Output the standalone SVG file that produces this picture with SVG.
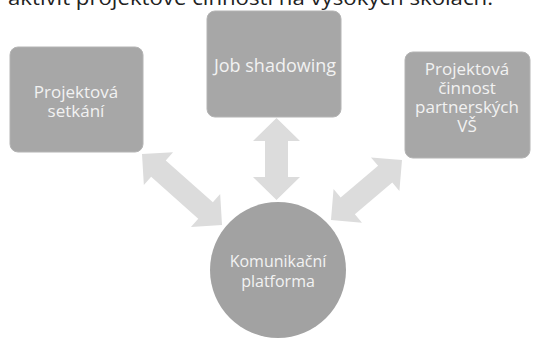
<svg xmlns="http://www.w3.org/2000/svg" width="533" height="338" viewBox="0 0 533 338">
<defs>
<style>
.box{fill:#a7a7a7;stroke:#b4b4b4;stroke-width:1}
.arr{fill:#dcdcdc}
.lbl{font-family:"Open Sans","Liberation Sans",sans-serif;font-size:17px;fill:#f2f2f2;text-anchor:middle}
.title{font-family:"Open Sans","Liberation Sans",sans-serif;font-size:20px;fill:#222}
</style>
</defs>
<rect width="533" height="338" fill="#ffffff"/>
<text class="title" x="8" y="5" textLength="485" lengthAdjust="spacingAndGlyphs">aktivit projektové činnosti na vysokých školách.</text>
<g id="connectors">
<polygon class="arr" transform="translate(142,154) rotate(41.6)" points="0,0 22,-22 22,-11 85,-11 85,-22 107,0 85,22 85,11 22,11 22,22"/>
<polygon class="arr" transform="translate(402,160) rotate(139.8)" points="0,0 22,-22 22,-11 71,-11 71,-22 93,0 71,22 71,11 22,11 22,22"/>
<polygon class="arr" points="276.5,118 300,141 288,141 288,177 300,177 276.5,200 253,177 265,177 265,141 253,141"/>
</g>
<g id="node-setkani">
<rect class="box" x="10" y="47" width="133" height="105" rx="8"/>
<text class="lbl"><tspan x="76" y="98">Projektová</tspan><tspan x="76" y="117">setkání</tspan></text>
</g>
<g id="node-shadowing">
<rect class="box" x="207" y="11" width="134" height="106" rx="8"/>
<text class="lbl" x="275" y="72" style="font-size:18px">Job shadowing</text>
</g>
<g id="node-partneri">
<rect class="box" x="405" y="52" width="125" height="106" rx="8"/>
<text class="lbl"><tspan x="467" y="75">Projektová</tspan><tspan x="467" y="94">činnost</tspan><tspan x="467" y="113">partnerských</tspan><tspan x="467" y="132">VŠ</tspan></text>
</g>
<g id="node-platforma">
<circle cx="278" cy="270" r="68" fill="#a2a2a2"/>
<text class="lbl" style="font-size:16px"><tspan x="278" y="267">Komunikační</tspan><tspan x="278" y="287">platforma</tspan></text>
</g>
</svg>
